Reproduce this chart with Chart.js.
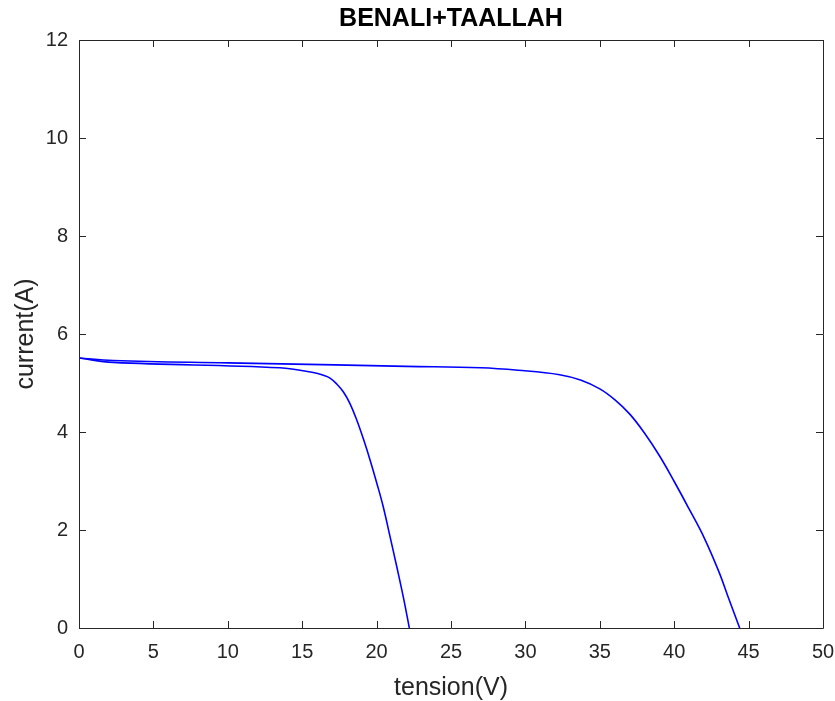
<!DOCTYPE html>
<html>
<head>
<meta charset="utf-8">
<script src="https://cdn.jsdelivr.net/npm/chart.js@4"></script>
<style>
  html, body { margin: 0; padding: 0; background: #fff; }
  #wrap { width: 835px; height: 701px; }
</style>
</head>
<body>
<div id="wrap"><canvas id="myChart" width="835" height="701"></canvas></div>
<script>
var titulo = "BENALI+TAALLAH";
var ejeX = "tension(V)";
var ejeY = "current(A)";

// curva larga (Voc ~ 44.4 V)
var tensionLarga = [0, 2.3, 10, 17.2, 22, 27, 29.5, 32.3, 33.7, 35.0, 36.0, 37.0, 38.0, 39.0, 40.0, 41.0, 42.0, 43.0, 43.7, 44.4];
var corrienteLarga = [5.51, 5.46, 5.41, 5.37, 5.34, 5.31, 5.26, 5.17, 5.06, 4.88, 4.66, 4.37, 3.98, 3.52, 2.99, 2.43, 1.85, 1.15, 0.57, 0];

// curva corta (Voc ~ 22.2 V)
var tensionCorta = [0, 2.3, 13.5, 15.97, 16.42, 16.87, 17.32, 17.76, 18.21, 18.66, 19.11, 19.56, 20.01, 20.45, 20.90, 21.35, 21.79, 22.2];
var corrienteCorta = [5.51, 5.42, 5.31, 5.20, 5.16, 5.10, 4.98, 4.82, 4.58, 4.25, 3.86, 3.43, 2.96, 2.47, 1.87, 1.26, 0.64, 0];

var ticksX = [0, 5, 10, 15, 20, 25, 30, 35, 40, 45, 50];
var ticksY = [0, 2, 4, 6, 8, 10, 12];

var fuente = "'Liberation Sans', Arial, Helvetica, sans-serif";
var gris = "#262626";

function puntos(xs, ys) {
  var out = [];
  for (var i = 0; i < xs.length; i++) out.push({ x: xs[i], y: ys[i] });
  return out;
}

// caja y ticks hacia dentro, estilo matlab
var cajaPlugin = {
  id: "caja",
  afterDraw: function (chart) {
    var c = chart.ctx;
    var a = chart.chartArea;
    var sx = chart.scales.x;
    var sy = chart.scales.y;
    var largo = 7;
    c.save();
    c.strokeStyle = gris;
    c.lineWidth = 1;
    c.beginPath();
    c.rect(Math.round(a.left) + 0.5, Math.round(a.top) + 0.5, Math.round(a.right - a.left), Math.round(a.bottom - a.top));
    ticksX.forEach(function (v) {
      var px = Math.round(sx.getPixelForValue(v)) + 0.5;
      c.moveTo(px, a.bottom);
      c.lineTo(px, a.bottom - largo);
      c.moveTo(px, a.top);
      c.lineTo(px, a.top + largo);
    });
    ticksY.forEach(function (v) {
      var py = Math.round(sy.getPixelForValue(v)) + 0.5;
      c.moveTo(a.left, py);
      c.lineTo(a.left + largo, py);
      c.moveTo(a.right, py);
      c.lineTo(a.right - largo, py);
    });
    c.stroke();
    c.restore();
  },
};

var ctx = document.getElementById("myChart");
var myChart = new Chart(ctx, {
  type: "scatter",
  data: {
    datasets: [
      {
        label: "larga",
        data: puntos(tensionLarga, corrienteLarga),
        showLine: true,
        borderColor: "#0000ff",
        borderWidth: 1.6,
        pointRadius: 0,
        tension: 0.4,
      },
      {
        label: "corta",
        data: puntos(tensionCorta, corrienteCorta),
        showLine: true,
        borderColor: "#0000ff",
        borderWidth: 1.6,
        pointRadius: 0,
        tension: 0.4,
      },
    ],
  },
  options: {
    responsive: false,
    animation: false,
    layout: { padding: { top: 0, left: 0, right: 12, bottom: 0 } },
    plugins: {
      legend: { display: false },
      tooltip: { enabled: false },
      title: {
        display: true,
        text: titulo,
        fullSize: false,
        color: "#000",
        font: { family: fuente, size: 25, weight: "bold", lineHeight: 1.2 },
        padding: { top: 4, bottom: 6 },
      },
    },
    scales: {
      x: {
        type: "linear",
        min: 0,
        max: 50,
        afterFit: function (s) { s.height = 73; s.paddingLeft = 0; s.paddingRight = 0; },
        afterBuildTicks: function (s) { s.ticks = ticksX.map(function (v) { return { value: v }; }); },
        grid: { display: false, drawTicks: false },
        border: { display: false },
        ticks: { color: gris, padding: 12, maxRotation: 0, font: { family: fuente, size: 20, lineHeight: 1.2 } },
        title: {
          display: true,
          text: ejeX,
          color: gris,
          font: { family: fuente, size: 25, lineHeight: 1 },
          padding: { top: 0, bottom: 0 },
        },
      },
      y: {
        type: "linear",
        min: 0,
        max: 12,
        afterFit: function (s) { s.width = 79; s.paddingTop = 0; s.paddingBottom = 0; },
        afterBuildTicks: function (s) { s.ticks = ticksY.map(function (v) { return { value: v }; }); },
        grid: { display: false, drawTicks: false },
        border: { display: false },
        ticks: { color: gris, padding: 11, font: { family: fuente, size: 20, lineHeight: 1.2 } },
        title: {
          display: true,
          text: ejeY,
          color: gris,
          font: { family: fuente, size: 25, lineHeight: 1 },
          padding: { top: 14, bottom: 0 },
        },
      },
    },
  },
  plugins: [cajaPlugin],
});
</script>
</body>
</html>
